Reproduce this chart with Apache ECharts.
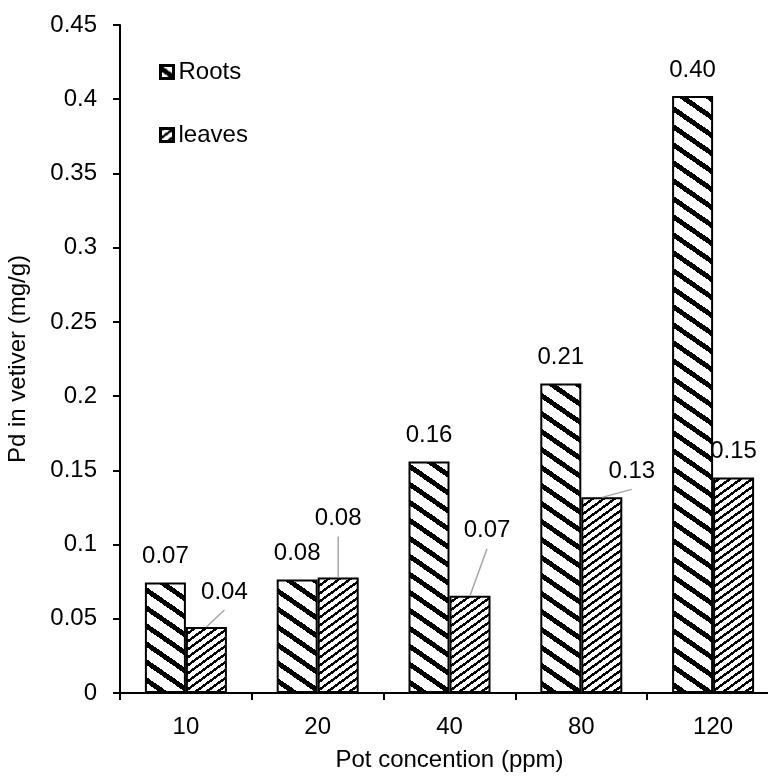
<!DOCTYPE html>
<html>
<head>
<meta charset="utf-8">
<script src="https://cdn.jsdelivr.net/npm/echarts@6/dist/echarts.min.js"></script>
<style>
  html, body { margin: 0; padding: 0; background: #fff; }
  #chart { width: 768px; height: 780px; }
</style>
</head>
<body>
<div id="chart"></div>
<script>
// Pot concentration groups and Pd uptake (mg/g) per plant part
const categories = ['10', '20', '40', '80', '120'];
const roots = [0.0745, 0.0765, 0.156, 0.2085, 0.4022];
const leaves = [0.0445, 0.0778, 0.0655, 0.1318, 0.1452];
const yTicks = { min: 0, max: 0.45, interval: 0.05 };

// Callout shifts for the leaves value labels (pixels, per category)
const leafLabelShift = [[18, -9], [0, -33], [17, -39], [30, 0], [0, 0]];

const FONT = 'Liberation Sans, Arial, sans-serif';
const BAR_W = 41;
const LABEL_DIST = 14;

// Crisp black/white slanted hatch tile: w x h pixels, one stripe per tile
function hatch(w, h, thick, dir) {
  const c = document.createElement('canvas');
  c.width = w; c.height = h;
  const g = c.getContext('2d');
  const img = g.createImageData(w, h);
  const s = h / w;
  for (let y = 0; y < h; y++) {
    for (let x = 0; x < w; x++) {
      const k = dir === 'down' ? (y - s * x) : (y + s * x);
      const m = ((Math.round(k) % h) + h) % h;
      const v = m < thick ? 0 : 255;
      const i = (y * w + x) * 4;
      img.data[i] = img.data[i + 1] = img.data[i + 2] = v;
      img.data[i + 3] = 255;
    }
  }
  g.putImageData(img, 0, 0);
  return c;
}

const rootsFill = { image: hatch(26, 18, 6, 'down'), repeat: 'repeat' };
const leavesFill = { image: hatch(11, 8, 3, 'up'), repeat: 'repeat' };

const valueLabel = {
  show: true,
  position: 'top',
  distance: LABEL_DIST,
  fontFamily: FONT,
  fontSize: 24,
  color: '#000',
  formatter: p => p.value.toFixed(2)
};

const chart = echarts.init(document.getElementById('chart'));
chart.setOption({
  animation: false,
  backgroundColor: '#fff',
  textStyle: { fontFamily: FONT, color: '#000' },
  grid: { left: 120, top: 25, width: 659, height: 668, outerBoundsMode: 'none' },
  legend: {
    orient: 'vertical',
    left: 154,
    top: 55,
    itemWidth: 13,
    itemHeight: 13,
    itemGap: 39,
    itemTextGap: 3,
    icon: 'rect',
    itemStyle: { borderColor: '#000', borderWidth: 3 },
    textStyle: { fontFamily: FONT, fontSize: 24, color: '#000' },
    data: ['Roots', 'leaves']
  },
  xAxis: {
    type: 'category',
    data: categories,
    name: 'Pot concention (ppm)',
    nameLocation: 'middle',
    nameGap: 55,
    nameTextStyle: { fontFamily: FONT, fontSize: 24, color: '#000' },
    axisLine: { lineStyle: { color: '#000', width: 2 } },
    axisTick: { show: true, length: 7, lineStyle: { color: '#000', width: 2 } },
    axisLabel: { fontFamily: FONT, fontSize: 24, color: '#000', margin: 22 },
    splitLine: { show: false }
  },
  yAxis: {
    type: 'value',
    min: yTicks.min,
    max: yTicks.max,
    interval: yTicks.interval,
    name: 'Pd in vetiver (mg/g)',
    nameLocation: 'middle',
    nameGap: 90,
    nameRotate: 90,
    nameTextStyle: { fontFamily: FONT, fontSize: 24, color: '#000' },
    axisLine: { show: true, lineStyle: { color: '#000', width: 2 } },
    axisTick: { show: true, length: 7, lineStyle: { color: '#000', width: 2 } },
    axisLabel: { fontFamily: FONT, fontSize: 24, color: '#000', margin: 23 },
    splitLine: { show: false }
  },
  series: [
    {
      name: 'Roots',
      type: 'bar',
      data: roots,
      barWidth: BAR_W,
      barGap: '0%',
      itemStyle: { color: rootsFill, borderColor: '#000', borderWidth: 2 },
      label: valueLabel
    },
    {
      name: 'leaves',
      type: 'bar',
      data: leaves,
      barWidth: BAR_W,
      barGap: '0%',
      itemStyle: { color: leavesFill, borderColor: '#000', borderWidth: 2 },
      label: valueLabel,
      labelLayout: p => {
        const s = leafLabelShift[p.dataIndex];
        return { dx: s[0], dy: s[1] };
      }
    },
    {
      // grey leader lines from each leaves bar top to its shifted label
      type: 'custom',
      silent: true,
      z: 3,
      data: leaves.map((v, i) => [i, v]),
      renderItem: (params, api) => {
        const i = api.value(0);
        const [dx, dy] = leafLabelShift[i];
        if (!dx && !dy) return null;
        const top = api.coord([i, api.value(1)]);
        const x0 = top[0] + BAR_W / 2;
        const y0 = top[1];
        return {
          type: 'line',
          shape: { x1: x0, y1: y0, x2: x0 + dx, y2: y0 - 8 + dy },
          style: { stroke: '#a6a6a6', lineWidth: 1.5 }
        };
      }
    }
  ]
});
</script>
</body>
</html>
